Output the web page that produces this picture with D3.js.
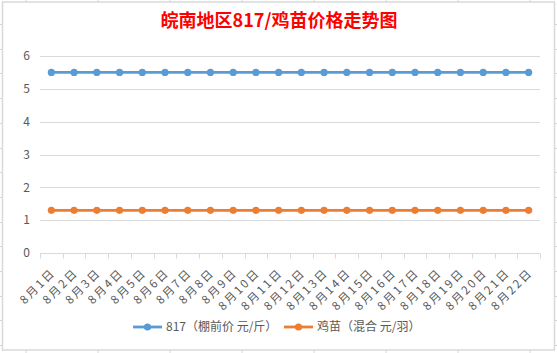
<!DOCTYPE html>
<html lang="zh">
<head>
<meta charset="UTF-8">
<title>皖南地区817/鸡苗价格走势图</title>
<style>
  body { margin: 0; background: #fff; }
  svg { display: block; }
  text { font-family: "Microsoft YaHei", "Noto Sans CJK SC", sans-serif; }
</style>
</head>
<body>
<script src="https://cdn.jsdelivr.net/npm/d3@7/dist/d3.min.js"></script>
<script>
  // 数据
  var dates = ["8月1日", "8月2日", "8月3日", "8月4日", "8月5日", "8月6日", "8月7日", "8月8日",
    "8月9日", "8月10日", "8月11日", "8月12日", "8月13日", "8月14日", "8月15日", "8月16日",
    "8月17日", "8月18日", "8月19日", "8月20日", "8月21日", "8月22日"];
  var price817 = [5.5, 5.5, 5.5, 5.5, 5.5, 5.5, 5.5, 5.5, 5.5, 5.5, 5.5,
    5.5, 5.5, 5.5, 5.5, 5.5, 5.5, 5.5, 5.5, 5.5, 5.5, 5.5];
  var priceChick = [1.3, 1.3, 1.3, 1.3, 1.3, 1.3, 1.3, 1.3, 1.3, 1.3, 1.3,
    1.3, 1.3, 1.3, 1.3, 1.3, 1.3, 1.3, 1.3, 1.3, 1.3, 1.3];
  var yTicks = [0, 1, 2, 3, 4, 5, 6];
  var seriesNames = ["817（棚前价 元/斤）", "鸡苗（混合 元/羽）"];
  var colors = ["#5b9bd5", "#ed7d31"];

  var W = 557, H = 353;
  var svg = d3.select("body").append("svg").attr("width", W).attr("height", H);

  // 表格背景的格线头
  var grid = "#d4d4d4";
  var colX = d3.range(8).map(function (i) { return 26 + i * 72; });
  var rowY = d3.range(14).map(function (i) { return 24 + i * 24.7; });
  colX.forEach(function (x) {
    svg.append("line").attr("x1", x).attr("x2", x).attr("y1", 0).attr("y2", 2).attr("stroke", grid);
    svg.append("line").attr("x1", x).attr("x2", x).attr("y1", 350).attr("y2", 353).attr("stroke", grid);
  });
  rowY.forEach(function (y) {
    svg.append("line").attr("x1", 0).attr("x2", 2).attr("y1", Math.round(y) + 0.5).attr("y2", Math.round(y) + 0.5).attr("stroke", grid);
    svg.append("line").attr("x1", 555).attr("x2", 557).attr("y1", Math.round(y) + 0.5).attr("y2", Math.round(y) + 0.5).attr("stroke", grid);
  });

  // 图表外框
  svg.append("rect").attr("x", 2.5).attr("y", 2).attr("width", 552).attr("height", 348)
    .attr("fill", "#fff").attr("stroke", "#d9d9d9").attr("stroke-width", 1.5);

  // 标题
  svg.append("text").attr("x", 279).attr("y", 27).attr("text-anchor", "middle")
    .attr("font-size", 18).attr("font-weight", "bold").attr("fill", "#ff0000")
    .text("皖南地区817/鸡苗价格走势图");

  var x = d3.scaleBand().domain(dates).range([40, 540]);
  var y = d3.scaleLinear().domain([0, 6]).range([253, 56]);

  // y 网格和刻度
  var yg = svg.append("g");
  yg.selectAll("line").data(yTicks.filter(function (d) { return d > 0; })).enter().append("line")
    .attr("x1", 40).attr("x2", 540)
    .attr("y1", function (d) { return Math.round(y(d)) + 0.5; })
    .attr("y2", function (d) { return Math.round(y(d)) + 0.5; })
    .attr("stroke", "#d9d9d9");
  yg.selectAll("text").data(yTicks).enter().append("text")
    .attr("x", 30).attr("y", function (d) { return y(d); }).attr("dy", "0.35em")
    .attr("text-anchor", "end").attr("font-size", 12).attr("fill", "#595959")
    .text(function (d) { return d; });

  // x 轴
  var xAxis = svg.append("g").attr("transform", "translate(0," + (Math.round(y(0)) + 0.5) + ")");
  xAxis.append("line").attr("x1", 40).attr("x2", 540).attr("stroke", "#d9d9d9");
  xAxis.selectAll(".tk").data(d3.range(dates.length + 1)).enter().append("line")
    .attr("x1", function (i) { return Math.round(40 + i * x.step()) + 0.5; })
    .attr("x2", function (i) { return Math.round(40 + i * x.step()) + 0.5; })
    .attr("y1", 0).attr("y2", 5).attr("stroke", "#d9d9d9");
  xAxis.selectAll("text").data(dates).enter().append("text")
    .attr("transform", function (d) {
      return "translate(" + (x(d) + x.bandwidth() / 2 + 2) + ",17) rotate(-45)";
    })
    .attr("text-anchor", "end").attr("dy", "0.35em")
    .attr("font-size", 11.5).attr("letter-spacing", 2.2).attr("fill", "#595959")
    .text(function (d) { return d; });

  // 折线
  var line = d3.line()
    .x(function (d, i) { return x(dates[i]) + x.bandwidth() / 2; })
    .y(function (d) { return y(d); });
  [price817, priceChick].forEach(function (vals, k) {
    svg.append("path").datum(vals).attr("d", line).attr("fill", "none")
      .attr("stroke", colors[k]).attr("stroke-width", 2.8).attr("stroke-linejoin", "round");
    svg.selectAll(".pt" + k).data(vals).enter().append("circle")
      .attr("cx", function (d, i) { return x(dates[i]) + x.bandwidth() / 2; })
      .attr("cy", function (d) { return y(d); })
      .attr("r", 3.6).attr("fill", colors[k]);
  });

  // 图例
  var legX = [133, 284];
  seriesNames.forEach(function (name, k) {
    var g = svg.append("g").attr("transform", "translate(" + legX[k] + ",327)");
    g.append("line").attr("x1", 0).attr("x2", 29).attr("stroke", colors[k]).attr("stroke-width", 2.8);
    g.append("circle").attr("cx", 14.5).attr("r", 3.6).attr("fill", colors[k]);
    g.append("text").attr("x", 33).attr("dy", "0.35em").attr("font-size", 12).attr("fill", "#595959")
      .text(name);
  });
</script>
</body>
</html>
